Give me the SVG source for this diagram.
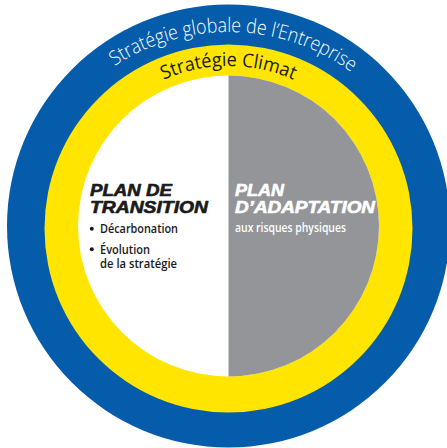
<svg xmlns="http://www.w3.org/2000/svg" width="447" height="448" viewBox="0 0 447 448">
  <defs>
    <path id="arcOuter" d="M 20.5 240 A 208 208 0 0 1 436.5 240"/>
    <path id="arcClimat" d="M 68.5 226 A 160 160 0 0 1 388.5 226"/>
    <style>
      .ringtxt { font-family: "Open Sans", "Noto Sans", sans-serif; text-anchor: middle; }
      .title { font-family: "Liberation Sans", Arial, sans-serif; font-weight: 900; font-style: italic; font-size: 16.5px; stroke-width: 0.6px; stroke-linejoin: round; }
      .dark { fill: #1a1a1a; stroke: #1a1a1a; }
      .light { fill: #ffffff; stroke: #ffffff; }
      .item { font-family: "Open Sans", "Noto Sans", sans-serif; font-weight: 600; font-size: 12.2px; }
    </style>
  </defs>
  <rect width="447" height="448" fill="#ffffff"/>

  <g id="strategie-globale">
    <circle cx="228.5" cy="226" r="221.5" fill="#045CAB"/>
    <text class="ringtxt" font-size="20" font-weight="300" fill="#ffffff"><textPath href="#arcOuter" startOffset="332" textLength="252" lengthAdjust="spacingAndGlyphs">Stratégie globale de l’Entreprise</textPath></text>
  </g>

  <g id="strategie-climat">
    <circle cx="228.5" cy="228.5" r="184" fill="#FFE500"/>
    <text class="ringtxt" font-size="19" fill="#1a1a1a"><textPath href="#arcClimat" startOffset="50%" textLength="134" lengthAdjust="spacingAndGlyphs">Stratégie Climat</textPath></text>
  </g>

  <g id="plan-transition">
    <circle cx="228.5" cy="226" r="150.5" fill="#ffffff"/>
    <text class="title dark" x="90" y="196" textLength="82" lengthAdjust="spacingAndGlyphs">PLAN DE</text>
    <text class="title dark" x="90" y="213" textLength="118" lengthAdjust="spacingAndGlyphs">TRANSITION</text>
    <circle cx="91.8" cy="228.8" r="2" fill="#1a1a1a"/>
    <text class="item" fill="#1a1a1a" x="100" y="233" textLength="78" lengthAdjust="spacingAndGlyphs">Décarbonation</text>
    <circle cx="91.8" cy="249.3" r="2" fill="#1a1a1a"/>
    <text class="item" fill="#1a1a1a" x="100" y="253.5" textLength="50" lengthAdjust="spacingAndGlyphs">Évolution</text>
    <text class="item" fill="#1a1a1a" x="100" y="268" textLength="77" lengthAdjust="spacingAndGlyphs">de la stratégie</text>
  </g>

  <g id="plan-adaptation">
    <path d="M 228.5 75.5 A 150.5 150.5 0 0 1 228.5 376.5 Z" fill="#939598"/>
    <text class="title light" x="235" y="196" textLength="49" lengthAdjust="spacingAndGlyphs">PLAN</text>
    <text class="title light" x="235" y="213" textLength="140" lengthAdjust="spacingAndGlyphs">D’ADAPTATION</text>
    <text class="item" fill="#ffffff" x="235" y="232" textLength="111" lengthAdjust="spacingAndGlyphs">aux risques physiques</text>
  </g>
</svg>
